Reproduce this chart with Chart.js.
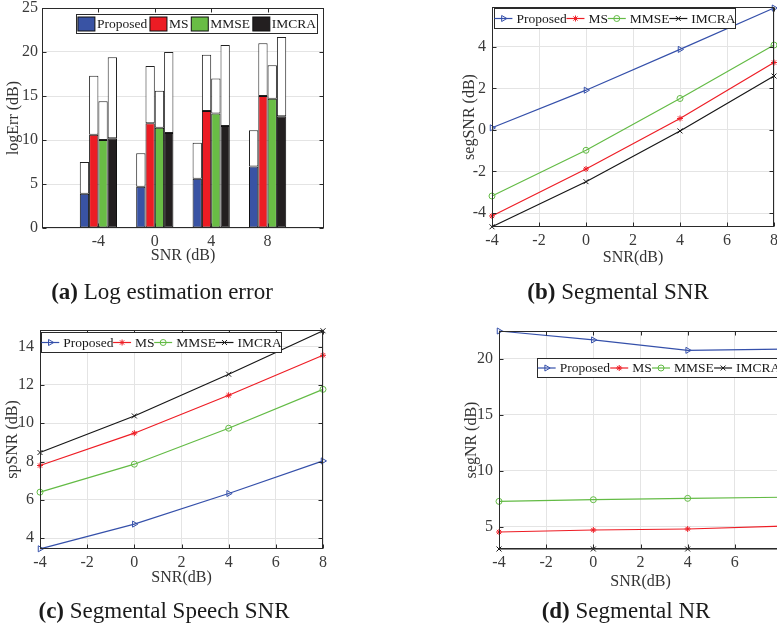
<!DOCTYPE html>
<html>
<head>
<meta charset="utf-8">
<script src="https://cdn.jsdelivr.net/npm/chart.js@4.4.1/dist/chart.umd.min.js"></script>
<style>
  html, body { margin: 0; padding: 0; background: #fff; width: 777px; height: 631px; overflow: hidden; position: relative; }
  canvas { position: absolute; }
  .cap { position: absolute; font-family: "Liberation Serif", serif; font-size: 23px; color: #1a1a1a; white-space: nowrap; transform: translateX(-50%); }
</style>
</head>
<body>
<canvas id="errChart" width="340" height="280" style="left:0;top:0"></canvas>
<canvas id="segChart" width="360" height="280" style="left:430px;top:0"></canvas>
<canvas id="spChart" width="340" height="280" style="left:0;top:320px"></canvas>
<canvas id="nrChart" width="370" height="280" style="left:430px;top:320px"></canvas>
<div class="cap" style="left:162px;top:279px"><b>(a)</b> Log estimation error</div>
<div class="cap" style="left:618px;top:279px"><b>(b)</b> Segmental SNR</div>
<div class="cap" style="left:164px;top:598px"><b>(c)</b> Segmental Speech SNR</div>
<div class="cap" style="left:626px;top:598px"><b>(d)</b> Segmental NR</div>
<script>
// input SNR levels and methods
const snrLevels = [-4, 0, 4, 8];
const barSlots = ['', '-4', '0', '4', '8', ''];   // empty slots pad the bar axis on both sides
const methods = ['Proposed', 'MS', 'MMSE', 'IMCRA'];

// tick values
const snrTicks = [-4, -2, 0, 2, 4, 6, 8];
const errTicks = [0, 5, 10, 15, 20, 25];
const segTicks = [-4, -2, 0, 2, 4];
const spTicks = [4, 6, 8, 10, 12, 14];
const nrTicks = [5, 10, 15, 20];

// log estimation error: mean (filled bar) and upper end (white bar)
const errProposed = [3.9, 4.7, 5.6, 7.0];
const errMS = [10.6, 11.9, 13.3, 15.0];
const errMMSE = [10.0, 11.4, 13.0, 14.7];
const errIMCRA = [10.2, 10.8, 11.6, 12.7];
const errProposedTop = [7.5, 8.5, 9.7, 11.1];
const errMSTop = [17.3, 18.4, 19.7, 21.0];
const errMMSETop = [14.4, 15.6, 17.0, 18.5];
const errIMCRATop = [19.4, 20.0, 20.8, 21.7];

// segmental SNR
const segProposed = [0.1, 1.91, 3.87, 5.86];
const segMS = [-4.14, -1.88, 0.55, 3.24];
const segMMSE = [-3.18, -0.98, 1.51, 4.08];
const segIMCRA = [-4.66, -2.49, -0.05, 2.59];

// segmental speech SNR
const spProposed = [3.44, 4.73, 6.33, 8.03];
const spMS = [7.79, 9.48, 11.46, 13.55];
const spMMSE = [6.40, 7.86, 9.74, 11.77];
const spIMCRA = [8.47, 10.38, 12.56, 14.83];

// segmental noise reduction
const nrProposed = [22.5, 21.7, 20.77, 20.87];
const nrMS = [4.52, 4.70, 4.79, 5.05];
const nrMMSE = [7.26, 7.41, 7.53, 7.63];
const nrIMCRA = [3.0, 3.0, 3.0, 3.0];

const serif = '"Liberation Serif", "Times New Roman", serif';
const tickColor = '#3a3a3a';
const frameColor = '#2a2a2a';
const gridColor = '#e4e4e4';
const barColors = ['#3953a4', '#ec1c24', '#69bd45', '#231f20'];
const lineLook = [
  { color: '#3550aa', pointStyle: 'triangle', rotation: 90, radius: 3.5, fill: 'rgba(0,0,0,0)' },
  { color: '#ee1d25', pointStyle: 'star', rotation: 0, radius: 3, fill: '#ee1d25' },
  { color: '#63bb45', pointStyle: 'circle', rotation: 0, radius: 3, fill: 'rgba(0,0,0,0)' },
  { color: '#161616', pointStyle: 'crossRot', rotation: 0, radius: 3.5, fill: '#161616' }
];

// box around the axes with inward tick marks, like a MATLAB figure
const framePlugin = {
  id: 'frame',
  afterDatasetsDraw(chart) {
    const { ctx, chartArea: a, scales } = chart;
    const L = Math.round(a.left) + 0.5, R = Math.round(a.right) - 0.5;
    const T = Math.round(a.top) + 0.5, B = Math.round(a.bottom) - 0.5;
    ctx.save();
    ctx.strokeStyle = frameColor;
    ctx.lineWidth = 1;
    ctx.beginPath();
    scales.x.ticks.forEach((t, i) => {
      if (t.label === '') return;
      const px = Math.round(scales.x.getPixelForTick(i)) + 0.5;
      ctx.moveTo(px, B); ctx.lineTo(px, B - 4);
      ctx.moveTo(px, T); ctx.lineTo(px, T + 4);
    });
    scales.y.ticks.forEach((t, i) => {
      const py = Math.round(scales.y.getPixelForTick(i)) + 0.5;
      ctx.moveTo(L, py); ctx.lineTo(L + 4, py);
      ctx.moveTo(R, py); ctx.lineTo(R - 4, py);
    });
    ctx.stroke();
    ctx.strokeRect(L, T, R - L, B - T);
    ctx.restore();
  }
};

// legend drawn inside the axes in a single boxed row
const boxLegend = {
  id: 'boxLegend',
  afterDraw(chart, args, opts) {
    if (opts.left === undefined) return;
    const ctx = chart.ctx;
    const items = chart.data.datasets.filter(d => !d.legendSkip);
    const sampleW = opts.bars ? 17 : 18, textGap = opts.bars ? 2 : 4;
    ctx.save();
    ctx.font = '13.5px ' + serif;
    const widths = items.map(d => ctx.measureText(d.label).width);
    const used = widths.reduce((s, w) => s + w, 0) + items.length * (sampleW + textGap);
    const gap = (opts.width - used) / items.length;
    const x0 = Math.round(opts.left) + 0.5, y0 = Math.round(opts.top) + 0.5;
    ctx.fillStyle = '#fff';
    ctx.fillRect(x0, y0, opts.width, opts.height);
    ctx.strokeStyle = frameColor;
    ctx.lineWidth = 1;
    ctx.strokeRect(x0, y0, opts.width, opts.height);
    const cy = y0 + opts.height / 2;
    let x = x0 + gap / 2;
    items.forEach((d, i) => {
      if (opts.bars) {
        ctx.fillStyle = d.backgroundColor;
        ctx.fillRect(x, cy - 7, sampleW, 14);
        ctx.strokeStyle = '#111';
        ctx.strokeRect(x, cy - 7, sampleW, 14);
      } else {
        ctx.strokeStyle = d.borderColor;
        ctx.lineWidth = 1.2;
        ctx.beginPath();
        ctx.moveTo(x, cy); ctx.lineTo(x + sampleW, cy);
        ctx.stroke();
        ctx.fillStyle = d.pointBackgroundColor;
        ctx.strokeStyle = d.pointBorderColor;
        ctx.lineWidth = 1;
        Chart.helpers.drawPoint(ctx, {
          pointStyle: d.pointStyle, radius: d.pointRadius, rotation: d.pointRotation, borderWidth: 1
        }, x + sampleW / 2, cy);
      }
      ctx.fillStyle = '#1a1a1a';
      ctx.textBaseline = 'middle';
      ctx.textAlign = 'left';
      ctx.fillText(d.label, x + sampleW + textGap, cy + 0.5);
      x += sampleW + textGap + widths[i] + gap;
    });
    ctx.restore();
  }
};

// force the axis band size so the plot area lands where we want it
function fixBand(size) {
  return function (scale) {
    if (scale.isHorizontal()) scale.height = size; else scale.width = size;
    scale.paddingTop = 0; scale.paddingBottom = 0;
    scale.paddingLeft = 0; scale.paddingRight = 0;
  };
}

// put ticks exactly at the listed values
function useTicks(values) {
  return function (scale) {
    scale.ticks = values.map(v => ({ value: v }));
  };
}

function axisTitle(text, pad) {
  return { display: true, text: text, color: '#333', font: { family: serif, size: 16 }, padding: pad };
}

const tickFont = { family: serif, size: 16 };

function baseOptions(cfg) {
  return {
    responsive: false,
    animation: false,
    devicePixelRatio: 1,
    layout: { padding: { left: 0, bottom: 0, top: cfg.top, right: cfg.right } },
    plugins: {
      legend: { display: false },
      tooltip: { enabled: false },
      boxLegend: cfg.legend
    }
  };
}

// (a) log estimation error, grouped bars with white spread on top
(function () {
  const low = [errProposed, errMS, errMMSE, errIMCRA];
  const high = [errProposedTop, errMSTop, errMMSETop, errIMCRATop];
  const pad = v => [null].concat(v, [null]);
  const shared = { categoryPercentage: 0.66, barPercentage: 1, borderWidth: 1, borderSkipped: false };
  const datasets = methods.map((m, i) => Object.assign({}, shared, {
    label: m, stack: m, data: pad(low[i]), backgroundColor: barColors[i], borderColor: '#111'
  })).concat(methods.map((m, i) => Object.assign({}, shared, {
    label: m + ' range', legendSkip: true, stack: m,
    data: pad(low[i].map((v, j) => [v, high[i][j]])), backgroundColor: '#fff', borderColor: '#222'
  })));
  const opts = baseOptions({ top: 8, right: 16, legend: { left: 76, top: 14, width: 241, height: 19, bars: true } });
  opts.scales = {
    x: {
      offset: false, grid: { display: false, drawTicks: false }, border: { display: false },
      ticks: { font: tickFont, color: tickColor, padding: 4, maxRotation: 0, autoSkip: false },
      title: axisTitle('SNR (dB)', { bottom: 14.4 }),
      afterFit: fixBand(52)
    },
    y: {
      stacked: false, min: 0, max: 25,
      grid: { color: gridColor, drawTicks: false }, border: { display: false },
      ticks: { font: tickFont, color: tickColor, padding: 4 },
      afterBuildTicks: useTicks(errTicks),
      title: axisTitle('logErr (dB)', { top: 4.4 }),
      afterFit: fixBand(42)
    }
  };
  new Chart(document.getElementById('errChart'), {
    type: 'bar',
    data: { labels: barSlots, datasets: datasets },
    options: opts,
    plugins: [framePlugin, boxLegend]
  });
})();

function lineChart(id, series, cfg) {
  const datasets = methods.map((m, i) => ({
    label: m,
    data: snrLevels.map((s, j) => ({ x: s, y: series[i][j] })),
    borderColor: lineLook[i].color,
    borderWidth: 1.2,
    pointStyle: lineLook[i].pointStyle,
    pointRotation: lineLook[i].rotation,
    pointRadius: lineLook[i].radius,
    pointBorderWidth: 1,
    pointBorderColor: lineLook[i].color,
    pointBackgroundColor: lineLook[i].fill,
    tension: 0,
    clip: false
  }));
  const opts = baseOptions(cfg);
  opts.scales = {
    x: {
      type: 'linear', min: -4, max: 8,
      grid: { color: gridColor, drawTicks: false }, border: { display: false },
      ticks: { font: tickFont, color: tickColor, padding: 4 },
      afterBuildTicks: useTicks(snrTicks),
      title: axisTitle('SNR(dB)', { bottom: cfg.xTitlePad }),
      afterFit: fixBand(cfg.xBand)
    },
    y: {
      min: cfg.yMin, max: cfg.yMax,
      grid: { color: gridColor, drawTicks: false }, border: { display: false },
      ticks: { font: tickFont, color: tickColor, padding: 6 },
      afterBuildTicks: useTicks(cfg.yTicks),
      title: axisTitle(cfg.yTitle, { top: cfg.yTitlePad }),
      afterFit: fixBand(cfg.yBand)
    }
  };
  new Chart(document.getElementById(id), {
    type: 'line',
    data: { datasets: datasets },
    options: opts,
    plugins: [framePlugin, boxLegend]
  });
}

// (b) segmental SNR
lineChart('segChart', [segProposed, segMS, segMMSE, segIMCRA], {
  top: 7, right: 16, xBand: 53, yBand: 62, xTitlePad: 12.4, yTitlePad: 30.4,
  yMin: -4.67, yMax: 5.91, yTicks: segTicks, yTitle: 'segSNR (dB)',
  legend: { left: 64, top: 8, width: 241, height: 20 }
});

// (c) segmental speech SNR
lineChart('spChart', [spProposed, spMS, spMMSE, spIMCRA], {
  top: 10, right: 17, xBand: 51, yBand: 40, xTitlePad: 12.4, yTitlePad: 3.4,
  yMin: 3.43, yMax: 14.87, yTicks: spTicks, yTitle: 'spSNR (dB)',
  legend: { left: 41, top: 12, width: 240, height: 20 }
});

// (d) segmental noise reduction
lineChart('nrChart', [nrProposed, nrMS, nrMMSE, nrIMCRA], {
  top: 11, right: 18, xBand: 51, yBand: 69, xTitlePad: 8.4, yTitlePad: 32,
  yMin: 3.0, yMax: 22.5, yTicks: nrTicks, yTitle: 'segNR (dB)',
  legend: { left: 107, top: 38, width: 243, height: 19 }
});
</script>
</body>
</html>
